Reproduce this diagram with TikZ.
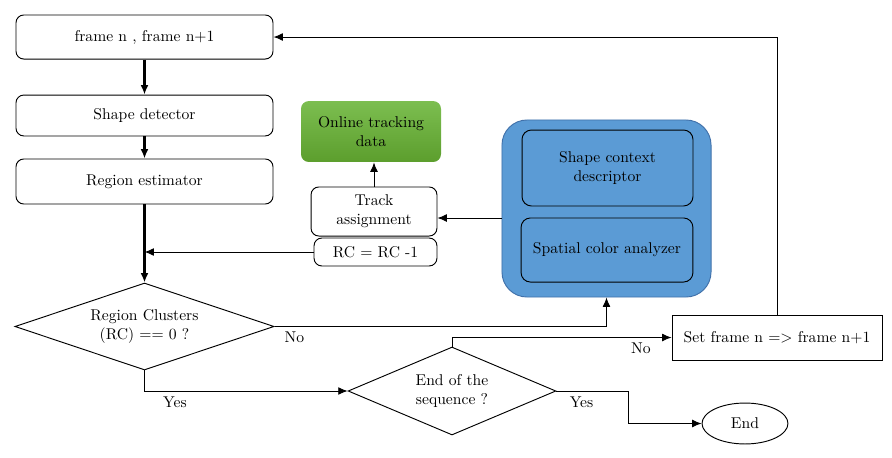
\documentclass[tikz,border=0pt]{standalone}
\usepackage{amsmath}
\usepackage{tikz}
\usetikzlibrary{shapes.geometric, arrows.meta, calc}

\definecolor{boxblue}{RGB}{91,155,213}
\definecolor{boxblueline}{RGB}{65,113,170}
\definecolor{greentop}{RGB}{124,190,80}
\definecolor{greenbot}{RGB}{92,158,45}

\tikzset{
	proc/.style = {draw, rounded corners = 5pt, fill = white, align = center, inner sep = 2pt},
	decide/.style = {draw, diamond, align = center, inner sep = 0pt},
	arr/.style = {-{Latex[length = 6pt, width = 5pt]}, line width = 0.6pt},
	thickarr/.style = {-{Latex[length = 6pt, width = 5pt]}, line width = 1.6pt}
}

\begin{document}
\begin{tikzpicture}[x = 0.64pt, y = -0.64pt, line width = 0.6pt]
\useasboundingbox (0, 0) rectangle (892, 457);
% left column
\node[proc, minimum width = 164.5pt, minimum height = 28.2pt] (frame) at (144.5, 37) {frame n , frame n+1};
\node[proc, minimum width = 164.5pt, minimum height = 26.2pt] (shape) at (144.5, 115.5) {Shape detector};
\node[proc, minimum width = 164.5pt, minimum height = 28.8pt] (region) at (144.5, 181.5) {Region estimator};
\node[decide, aspect = 3, minimum width = 165.8pt, minimum height = 55.7pt] (clusters) at (144.5, 326.5) {Region Clusters\\(RC) == 0 ?};
\node[decide, aspect = 2.4, minimum width = 133pt, minimum height = 56.3pt] (seq) at (452, 391) {End of the\\sequence ?};
\node[draw, ellipse, minimum width = 55pt, minimum height = 26.2pt] (end) at (745, 423.5) {End};
\node[draw, minimum width = 134.4pt, minimum height = 28.8pt] (next) at (777, 337.5) {Set frame n => frame n+1};
% tracking
\node[proc, minimum width = 80.6pt, minimum height = 31.4pt] (track) at (374, 211.5) {Track\\assignment};
\node[proc, minimum width = 78.7pt, minimum height = 17.9pt] (rc) at (375.5, 252) {RC = RC -1};
\node[rounded corners = 5pt, top color = greentop, bottom color = greenbot, align = center,
	minimum width = 89.6pt, minimum height = 39pt] (online) at (371, 131.5) {Online tracking\\data};
% descriptor block
\node[draw = boxblueline, fill = boxblue, rounded corners = 16pt,
	minimum width = 133.8pt, minimum height = 113.3pt] (features) at (606.5, 208.5) {};
\node[draw, fill = boxblue, rounded corners = 6pt, align = center,
	minimum width = 109.4pt, minimum height = 48.6pt] (context) at (607.5, 168) {Shape context\\descriptor};
\node[draw, fill = boxblue, rounded corners = 6pt,
	minimum width = 110pt, minimum height = 41pt] (color) at (607, 250) {Spatial color analyzer};
\coordinate (feed) at (0, 218);

\draw[thickarr] (frame) -- (shape);
\draw[thickarr] (shape) -- (region);
\draw[thickarr] (region) -- (clusters.north);
\draw[arr] (rc.west) -- (rc.west -| region.south);
\draw[arr] (features.west |- feed) -- (track.east |- feed);
\draw[arr] (track) -- (track |- online.south);
\draw[arr] (clusters.east) -| node[pos = 0.03, below] {No} (features.south);
\draw[arr] (clusters.south) |- node[pos = 0.575, below] {Yes} (seq.west);
\draw[arr] (seq.east) -- ++(72, 0) node[pos = 0.35, below] {Yes} |- (end.west);
\draw[arr] (seq.north) |- node[pos = 0.93, below] {No} (next.west);
\draw[arr] (next.north) |- (frame.east);
\end{tikzpicture}
\end{document}
